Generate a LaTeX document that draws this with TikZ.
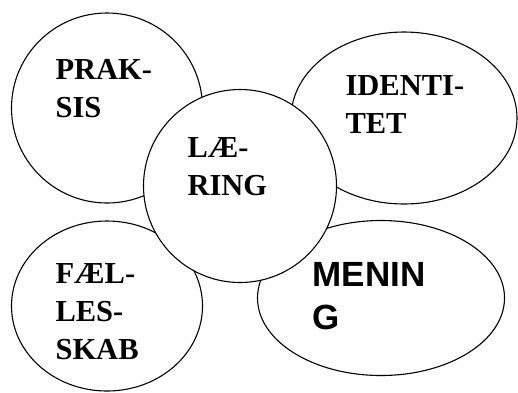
\documentclass[tikz,border=0pt]{standalone}
\usepackage{fontspec}
\setmainfont{Liberation Serif}
\newfontfamily\arialfont{Liberation Sans}
\usetikzlibrary{shapes.geometric}

\begin{document}
\begin{tikzpicture}[x=1pt, y=-1pt, line width=1.1pt,
    felt/.style={draw, ellipse, fill=white, inner sep=0pt},
    ord/.style={anchor=north west, inner sep=0pt, align=left,
      font=\bfseries\fontsize{30.5}{38}\selectfont}]
    \useasboundingbox (0,0) rectangle (518,392);
    % de fire ydre felter
    \node[felt, minimum width=191pt, minimum height=190pt] (praksis) at (107,108) {};
    \node[felt, minimum width=226pt, minimum height=172pt] (identitet) at (404,118) {};
    \node[felt, minimum width=191pt, minimum height=170pt] (faelles) at (107,306) {};
    \node[felt, minimum width=247pt, minimum height=155pt] (mening) at (381,298) {};
    % laering i midten, tegnet oeverst
    \node[felt, minimum width=193pt, minimum height=193pt] (laering) at (240,186) {};
    % tekster
    \node[ord] (tpraksis) at (55,59) {PRAK-\\SIS};
    \node[ord] (tidentitet) at (345,75) {IDENTI-\\TET};
    \node[ord] (tlaering) at (187,137) {LÆ-\\RING};
    \node[ord] (tfaelles) at (55,263) {FÆL-\\LES-\\SKAB};
    \node[ord, font=\arialfont\bfseries\fontsize{35}{43}\selectfont] (tmening) at (312,262) {MENIN\\G};
\end{tikzpicture}
\end{document}
